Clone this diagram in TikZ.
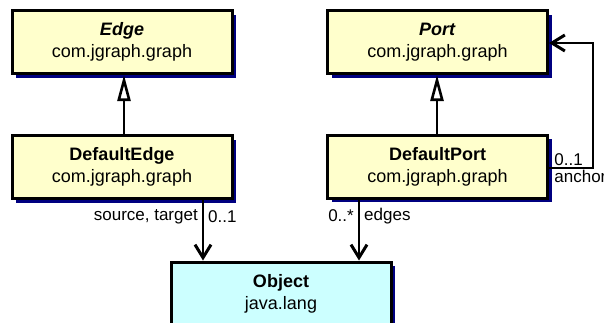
\documentclass[tikz,border=0pt]{standalone}
\usepackage{fontspec}
\setmainfont{Liberation Sans}
\usetikzlibrary{arrows.meta,shadows}
\definecolor{classfill}{HTML}{FFFFCC}
\definecolor{objfill}{HTML}{CCFFFF}
\definecolor{shadowblue}{HTML}{000080}
\begin{document}
\begin{tikzpicture}[x=0.5pt,y=-0.5pt,
  umlclass/.style={rectangle, draw=black, line width=1.5pt, fill=classfill,
    align=center, inner sep=0pt, font=\fontsize{9}{11}\selectfont,
    minimum width=110pt, minimum height=31.5pt,
    general shadow={fill=shadowblue, shadow xshift=2pt, shadow yshift=-2pt}},
  objclass/.style={umlclass, fill=objfill},
  gen/.style={line width=1.2pt, -{Triangle[open, length=13pt, width=6.5pt, line width=1.3pt, fill=white]}},
  assoc/.style={line width=1.2pt, -{Straight Barb[length=6.5pt, width=8pt, line width=1.5pt]}},
  lbl/.style={font=\fontsize{8.5}{10}\selectfont, inner sep=2pt}]
\useasboundingbox (0,0) rectangle (604,322);
\clip (0,0) rectangle (604,322);

% classes
\node[umlclass] (edge)  at (122,42)    {\textbf{\textit{Edge}}\\com.jgraph.graph};
\node[umlclass] (port)  at (437.5,42)  {\textbf{\textit{Port}}\\com.jgraph.graph};
\node[umlclass] (dedge) at (122,167)   {\textbf{DefaultEdge}\\com.jgraph.graph};
\node[umlclass] (dport) at (437.5,166.5) {\textbf{DefaultPort}\\com.jgraph.graph};
\node[objclass, minimum height=32pt] (obj) at (281,294) {\textbf{Object}\\java.lang};

% generalizations
\coordinate (ge) at (124,0);
\coordinate (gp) at (437,0);
\draw[gen] (dedge.north -| ge) -- (edge.south -| ge);
\draw[gen] (dport.north -| gp) -- (port.south -| gp);

% associations to Object
\coordinate (xa) at (203,0);
\coordinate (xb) at (359,0);
\draw[assoc] (dedge.south -| xa) -- node[lbl, pos=0.27, left] {source, target}
  node[lbl, pos=0.27, right] {0..1} (obj.north -| xa);
\draw[assoc] (dport.south -| xb) -- node[lbl, pos=0.27, left] {0..*}
  node[lbl, pos=0.27, right] {edges} (obj.north -| xb);

% anchor self-association
\coordinate (ancA) at (593,168);
\coordinate (ancB) at (593,43);
\draw[assoc] (dport.east |- ancA) coordinate (ancS) -- (ancA) -- (ancB) -- (port.east |- ancB);
\node[lbl, anchor=south west, inner sep=1pt, xshift=1.5pt] at (ancS) {0..1};
\node[lbl, anchor=north west, inner sep=1pt, xshift=1.5pt] at (ancS) {anchor};
\end{tikzpicture}
\end{document}
